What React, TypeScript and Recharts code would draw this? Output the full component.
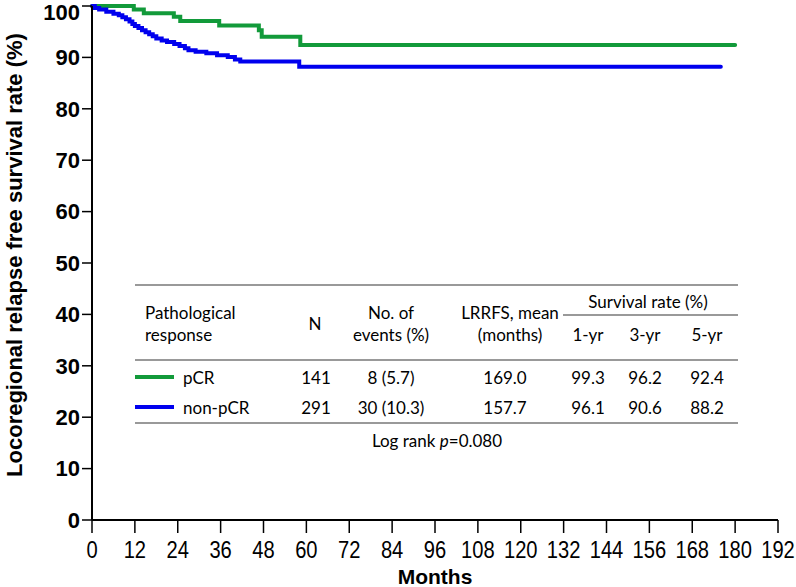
import { LineChart, Line, XAxis, YAxis } from "recharts";

// Kaplan-Meier steps (months, survival %)
const pcrMonths = [0, 11.7, 14.5, 22.9, 24.7, 35.6, 46.7, 47.5, 58.3, 180];
const pcrSurvival = [100, 99.3, 98.6, 97.9, 97.1, 96.2, 95.3, 94.0, 92.4, 92.4];

const nonPcrMonths = [
  0, 0.8, 2, 4, 6, 7.5, 8.5, 9.5, 10.5, 11.3, 12, 13, 14, 15, 16, 17, 18, 19.5, 21, 23,
  24.5, 26, 27, 29, 32, 35, 38, 40, 41.5, 58, 176,
];
const nonPcrSurvival = [
  100, 99.6, 99.3, 98.9, 98.5, 98.2, 97.8, 97.4, 97.0, 96.5, 96.1, 95.7, 95.3, 94.9, 94.5,
  94.1, 93.7, 93.3, 93.0, 92.6, 92.2, 91.8, 91.4, 91.1, 90.8, 90.4, 90.1, 89.6, 89.2, 88.2, 88.2,
];

const monthTicks = [0, 12, 24, 36, 48, 60, 72, 84, 96, 108, 120, 132, 144, 156, 168, 180, 192];
const rateTicks = [0, 10, 20, 30, 40, 50, 60, 70, 80, 90, 100];

// summary table
const groups = ["pCR", "non-pCR"];
const groupColors = ["#129a3a", "#0000ee"];
const groupN = ["141", "291"];
const groupEvents = ["8 (5.7)", "30 (10.3)"];
const groupMean = ["169.0", "157.7"];
const rate1yr = ["99.3", "96.1"];
const rate3yr = ["96.2", "90.6"];
const rate5yr = ["92.4", "88.2"];
const rateHeads = ["1-yr", "3-yr", "5-yr"];

const axisFont = "'Liberation Sans', Arial, sans-serif";
const tableFont = "Lato, 'Open Sans', sans-serif";

// narrow tick labels (the original uses a condensed face)
function MonthTick(props: any) {
  const { x, y, payload } = props;
  return (
    <text
      transform={`translate(${x},${y}) scale(0.84,1)`}
      textAnchor="middle"
      dy="0.71em"
      fontFamily={axisFont}
      fontSize={24}
      fill="#000"
    >
      {payload.value}
    </text>
  );
}

function RateTick(props: any) {
  const { x, y, payload } = props;
  // keep the top label inside the picture
  const nudge = payload.value === 100 ? 6 : 0;
  return (
    <text
      x={x}
      y={y + nudge}
      textAnchor="end"
      dy="0.355em"
      fontFamily={axisFont}
      fontSize={22}
      fontWeight="bold"
      fill="#000"
    >
      {payload.value}
    </text>
  );
}

function SummaryTable() {
  const lineColor = "#777";
  const rowY = [377, 407];
  const rateX = [588, 645, 707];
  const txt = { fontFamily: tableFont, fontSize: 17, fill: "#000" } as const;
  return (
    <svg width={796} height={587} style={{ position: "absolute", left: 0, top: 0 }}>
      <line x1={135} x2={738} y1={285} y2={285} stroke={lineColor} strokeWidth={1.5} />
      <line x1={563} x2={738} y1={315} y2={315} stroke={lineColor} strokeWidth={1.5} />
      <line x1={135} x2={738} y1={360} y2={360} stroke={lineColor} strokeWidth={1.5} />
      <line x1={135} x2={738} y1={423} y2={423} stroke={lineColor} strokeWidth={1.5} />

      <g {...txt} dominantBaseline="central">
        <text x={145} y={312}>Pathological</text>
        <text x={145} y={334}>response</text>
        <text x={315} y={323} textAnchor="middle">N</text>
        <text x={391} y={312} textAnchor="middle">No. of</text>
        <text x={391} y={334} textAnchor="middle">events (%)</text>
        <text x={510} y={312} textAnchor="middle">LRRFS, mean</text>
        <text x={510} y={334} textAnchor="middle">(months)</text>
        <text x={648} y={301} textAnchor="middle">Survival rate (%)</text>
        {rateHeads.map((h, i) => (
          <text key={h} x={rateX[i]} y={334} textAnchor="middle">{h}</text>
        ))}

        {groups.map((g, i) => (
          <g key={g}>
            <line x1={135} x2={174} y1={rowY[i]} y2={rowY[i]} stroke={groupColors[i]} strokeWidth={4} />
            <text x={183} y={rowY[i]}>{g}</text>
            <text x={316} y={rowY[i]} textAnchor="middle">{groupN[i]}</text>
            <text x={391} y={rowY[i]} textAnchor="middle">{groupEvents[i]}</text>
            <text x={505} y={rowY[i]} textAnchor="middle">{groupMean[i]}</text>
            <text x={rateX[0]} y={rowY[i]} textAnchor="middle">{rate1yr[i]}</text>
            <text x={rateX[1]} y={rowY[i]} textAnchor="middle">{rate3yr[i]}</text>
            <text x={rateX[2]} y={rowY[i]} textAnchor="middle">{rate5yr[i]}</text>
          </g>
        ))}

        <text x={437} y={440} textAnchor="middle">
          Log rank <tspan fontStyle="italic">p</tspan>=0.080
        </text>
      </g>

      <text x={435} y={584} textAnchor="middle" fontFamily={axisFont} fontSize={21} fontWeight="bold">
        Months
      </text>
      <text
        transform="translate(22, 255) rotate(-90)"
        textAnchor="middle"
        fontFamily={axisFont}
        fontSize={22}
        fontWeight="bold"
      >
        Locoregional relapse free survival rate (%)
      </text>
    </svg>
  );
}

export default function App() {
  const pcrData = pcrMonths.map((m, i) => ({ month: m, rate: pcrSurvival[i] }));
  const nonPcrData = nonPcrMonths.map((m, i) => ({ month: m, rate: nonPcrSurvival[i] }));

  return (
    <div style={{ position: "absolute", left: 0, top: 0, width: 796, height: 587, background: "#fff" }}>
      <LineChart width={796} height={587} margin={{ top: 6, right: 18, bottom: 0, left: 0 }}>
        <XAxis
          type="number"
          dataKey="month"
          domain={[0, 192]}
          ticks={monthTicks}
          interval={0}
          height={67}
          tickSize={13}
          tickMargin={8}
          axisLine={{ stroke: "#000", strokeWidth: 2 }}
          tickLine={{ stroke: "#000", strokeWidth: 1.5 }}
          tick={<MonthTick />}
        />
        <YAxis
          type="number"
          domain={[0, 100]}
          ticks={rateTicks}
          interval={0}
          width={92}
          tickSize={10}
          tickMargin={2}
          axisLine={{ stroke: "#000", strokeWidth: 2 }}
          tickLine={{ stroke: "#000", strokeWidth: 1.5 }}
          tick={<RateTick />}
        />
        <Line
          data={pcrData}
          dataKey="rate"
          type="stepAfter"
          stroke={groupColors[0]}
          strokeWidth={4}
          strokeLinecap="round"
          dot={false}
          isAnimationActive={false}
        />
        <Line
          data={nonPcrData}
          dataKey="rate"
          type="stepAfter"
          stroke={groupColors[1]}
          strokeWidth={4}
          strokeLinecap="round"
          dot={false}
          isAnimationActive={false}
        />
      </LineChart>
      <SummaryTable />
    </div>
  );
}
